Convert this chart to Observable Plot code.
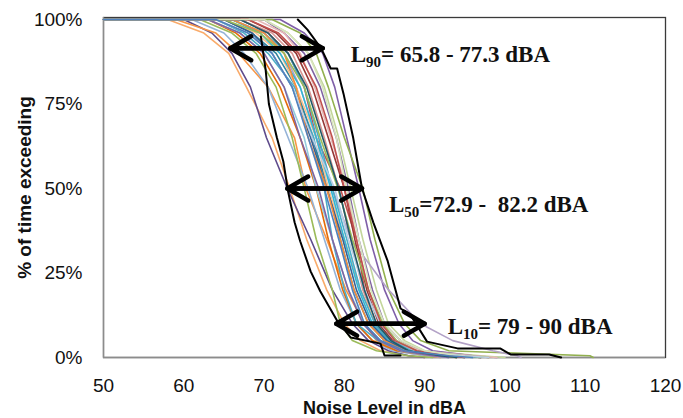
<!DOCTYPE html>
<html><head><meta charset="utf-8">
<script src="https://cdn.jsdelivr.net/npm/d3@7"></script>
<script src="https://cdn.jsdelivr.net/npm/@observablehq/plot@0.6"></script>
<style>body{margin:0;background:#fff;}</style>
</head><body><div id="chart"></div>
<script>
// Axis ticks
const xTicks = [50, 60, 70, 80, 90, 100, 110, 120];
const yTicks = [0, 25, 50, 75, 100];

// Exceedance levels (% of time) at which each measured curve is read
const levels = [100, 96, 90, 80, 65, 50, 35, 20, 10, 5, 2, 0.5, 0];

// Noise level (dBA) of each measured curve at those levels
const s01 = [58, 62.5, 65.6, 67.8, 71, 73.2, 75.3, 77.8, 80, 82, 84.5, 88, 90];
const s02 = [60, 63.5, 66, 68.3, 70.3, 72.9, 75.8, 78.5, 81, 83, 85.5, 88, 90];
const s03 = [59, 64, 66.8, 70.5, 73.8, 75.2, 77.8, 80.2, 82.5, 84, 86.5, 90, 92];
const s04 = [61, 65, 67.5, 70.5, 73, 75.5, 77.5, 79.5, 81.5, 83.5, 86, 90, 93];
const s05 = [62, 66, 69, 71.5, 73.5, 75, 76.5, 78.5, 79.5, 81, 84, 88, 91];
const s06 = [63, 66.5, 69.5, 72, 74.5, 76.5, 78, 79.8, 81.5, 83.5, 86.5, 91, 94];
const s07 = [64, 67.5, 70.5, 73.8, 76.2, 77.5, 78.5, 80, 81.5, 84.2, 87, 92, 95];
const s09 = [65, 68.5, 71.5, 74, 76, 78, 79.5, 81.2, 83, 85, 88, 92, 94];
const s10 = [67, 70.5, 73, 75, 76.5, 79.5, 81.5, 82.5, 83.8, 85.5, 88.5, 94, 97];
const s11 = [67, 71, 73.5, 75.5, 77.5, 79.3, 80.8, 82.3, 84, 86, 89, 95, 98];
const s12 = [70, 72.5, 75, 77, 79, 80.5, 81.8, 83.5, 85, 87, 89.5, 96, 99];
const s13 = [70, 73, 75.5, 77.5, 79.3, 80.8, 82.3, 84, 85.5, 87.5, 90, 97, 100];
const s14 = [72, 75, 77.3, 78.8, 80.3, 81.8, 83.2, 85, 86.8, 88.5, 91, 96, 98];
const s15 = [71, 74.5, 76.5, 78, 80, 82.3, 83.8, 85.5, 87.5, 89.5, 93, 110.6, 111];
const s16 = [66, 70, 72.5, 74.5, 76.5, 78.5, 80.8, 85.5, 89.5, 93.5, 98.5, 101.5, 102];
const s17 = [63, 67, 70, 72.5, 75, 76.5, 78.5, 80.5, 82.5, 84.5, 87, 91, 93];
const s18 = [65, 69, 72, 74, 76.5, 78, 80, 82, 84, 86, 88.5, 93, 95];
const s19 = [66, 69.5, 72, 74.5, 76.5, 78.3, 80, 81.8, 83.5, 85.5, 88, 93, 96];
const s20 = [68, 71.5, 74, 76, 78, 80, 81.3, 82.8, 84.3, 86, 89, 94, 97];
const s21 = [69, 72.5, 74.5, 76.3, 78.3, 80.3, 81.5, 83, 84.5, 86.5, 89.5, 96, 99];
const s22 = [65, 68.5, 71, 73.5, 75.8, 77.8, 79.8, 81.5, 83.3, 85.3, 88, 92.5, 95];
const s23 = [66, 70, 73, 75, 76.8, 78.5, 80.3, 82, 83.8, 85.8, 88.5, 94, 97];
const s24 = [66, 70, 72.5, 74, 75.5, 77.8, 79.5, 81.2, 83, 85, 87.5, 92, 94];
const s25 = [63, 67, 70, 72.5, 74.5, 76.8, 78.5, 80.5, 82.3, 84.3, 87, 91, 93];
const s26 = [65, 69.5, 72.5, 75, 77, 79.2, 81, 83, 84.8, 86.5, 89, 95, 98];
const s27 = [64, 68, 71, 73.5, 76, 78.8, 80.5, 82.5, 84.5, 86.3, 88.8, 95, 98];
const s28 = [68, 71.8, 74.3, 76.5, 78.5, 80, 81.5, 83, 84.6, 86.3, 89, 93, 95];
const s29 = [67, 70.5, 73, 75.3, 77.3, 79.3, 80.8, 82.5, 84, 85.8, 88, 92, 94];
const s30 = [70, 73, 75.5, 77.3, 79, 80.3, 81.8, 83.3, 85, 87, 90, 94, 96];
const s08 = [64, 68, 71, 73.5, 75.5, 77.5, 79.3, 81, 82.5, 84.5, 87.5, 93, 96];

const seriesNames = ["s01","s02","s03","s04","s05","s06","s07","s09","s10","s11","s12","s13","s14","s15","s16",
  "s17","s18","s19","s20","s21","s22","s23","s24","s25","s26","s27","s28","s29","s30","s08"];
const seriesValues = [s01,s02,s03,s04,s05,s06,s07,s09,s10,s11,s12,s13,s14,s15,s16,
  s17,s18,s19,s20,s21,s22,s23,s24,s25,s26,s27,s28,s29,s30,s08];
const seriesColors = ["#F9AB6B","#5F4B8B","#F79646","#95B3D7","#9BBB59","#E46C0A","#4BACC6","#31859C","#C0504D","#D99694",
  "#8064A2","#C3D69B","#7F5FA8","#92B04F","#B3A2C7","#93CDDD","#FAC090","#31B6D6","#953735","#E6B9B8",
  "#376092","#4BACC6","#F68D3C","#8064A2","#9BBB59","#B9CDE5","#C0504D","#215968","#D7E4BD","#4F81BD"];

// Hand-drawn black envelope curves
const leftEnvY = [95, 85, 75, 65, 58, 49, 40, 34.4, 25.5, 19.6, 10.9, 5.9, 4.1, 0.6, 0.6];
const leftEnvX = [69.6, 70.2, 70.6, 71.6, 72.4, 73.0, 73.8, 74.5, 75.8, 77.0, 79.1, 80.8, 84.5, 85, 87];
const rightEnvY = [100, 97, 91.5, 85.5, 85.5, 78, 65, 50, 40, 28.5, 14.5, 12.7, 4.7, 2.7, 2.7, 0.9, 0.9, 0];
const rightEnvX = [74.2, 75.4, 77.1, 78.3, 79.1, 79.9, 81.1, 82.2, 83.6, 85.4, 87.0, 88.2, 90.3, 94.1, 99.4, 100.7, 105.5, 107];

// Annotations (double arrows and their labels)
const annLevel = [91.5, 50, 10];
const annLo = [65.8, 72.9, 79];
const annHi = [77.3, 82.2, 90];
const annLabel = ["L|90|= 65.8 - 77.3 dBA", "L|50|=72.9 -  82.2 dBA", "L|10|= 79 - 90 dBA"];

const yTitle = "% of time exceeding";
const xTitle = "Noise Level in dBA";

// Build tidy data for the library
const lineData = [];
seriesValues.forEach((xs, i) => {
  lineData.push({s: seriesNames[i], x: xTicks[0], y: levels[0]});
  xs.forEach((x, j) => lineData.push({s: seriesNames[i], x, y: levels[j]}));
});
const leftEnv = leftEnvX.map((x, i) => ({x, y: leftEnvY[i]}));
const rightEnv = rightEnvX.map((x, i) => ({x, y: rightEnvY[i]}));
const idx = annLevel.map((_, i) => i);

const annFont = {fontFamily: "'Liberation Serif', 'Times New Roman', serif", fontWeight: "bold", fontSize: 23, textAnchor: "start", lineAnchor: "bottom", fill: "#111"};
const annOffsets = [[28, 14], [27, 23], [23, 10]];

const chart = Plot.plot({
  width: 683, height: 418,
  marginLeft: 103, marginRight: 18, marginTop: 17, marginBottom: 61,
  style: {fontFamily: "'Liberation Sans', Arial, sans-serif", fontSize: "19px", background: "#fff", color: "#111"},
  x: {domain: [xTicks[0], xTicks[xTicks.length - 1]], ticks: xTicks, tickSize: 0, tickPadding: 21, label: null},
  y: {domain: [0, 100.6], ticks: yTicks, tickSize: 0, tickPadding: 21, tickFormat: d => d + "%", label: null},
  color: {domain: seriesNames, range: seriesColors},
  marks: [
    Plot.frame({stroke: "#3a3a3a", strokeWidth: 1.3}),
    Plot.ruleX([xTicks[0]], {stroke: "#8c8c8c", strokeWidth: 1.3}),
    Plot.ruleY([0], {stroke: "#8c8c8c", strokeWidth: 1.3}),
    Plot.line(lineData, {x: "x", y: "y", z: "s", stroke: "s", strokeWidth: 1.6, strokeLinejoin: "round"}),
    Plot.line(leftEnv, {x: "x", y: "y", stroke: "#000", strokeWidth: 2, strokeLinejoin: "round"}),
    Plot.line(rightEnv, {x: "x", y: "y", stroke: "#000", strokeWidth: 2, strokeLinejoin: "round"}),
    Plot.arrow(idx, {x1: i => annLo[i], x2: i => annHi[i], y1: i => annLevel[i], y2: i => annLevel[i],
      stroke: "#000", strokeWidth: 4.5, headLength: 8, headAngle: 60, strokeLinecap: "round", strokeLinejoin: "round"}),
    Plot.arrow(idx, {x1: i => annHi[i], x2: i => annLo[i], y1: i => annLevel[i], y2: i => annLevel[i],
      stroke: "#000", strokeWidth: 4.5, headLength: 8, headAngle: 60, strokeLinecap: "round", strokeLinejoin: "round"}),
    ...idx.map(i => Plot.text([i], {x: j => annHi[j], y: j => annLevel[j], text: j => annLabel[j],
      dx: annOffsets[i][0], dy: annOffsets[i][1], ...annFont})),
    Plot.text([yTitle], {frameAnchor: "left", text: d => d, dx: -79, rotate: -90, textAnchor: "middle", lineAnchor: "middle", fontWeight: "bold", fontSize: 19}),
    Plot.text([xTitle], {frameAnchor: "bottom", text: d => d, dy: 56, textAnchor: "middle", lineAnchor: "bottom", fontWeight: "bold", fontSize: 18})
  ]
});

// Subscripts for the L-labels
d3.select(chart).selectAll("text").each(function () {
  const t = this.textContent;
  if (!t.includes("|")) return;
  const [a, b, c] = t.split("|");
  const sel = d3.select(this).style("white-space", "pre");
  sel.text(null);
  sel.append("tspan").text(a);
  sel.append("tspan").attr("dy", 5).attr("font-size", 15).text(b);
  sel.append("tspan").attr("dy", -5).text(c);
});

document.getElementById("chart").appendChild(chart);
</script></body></html>
